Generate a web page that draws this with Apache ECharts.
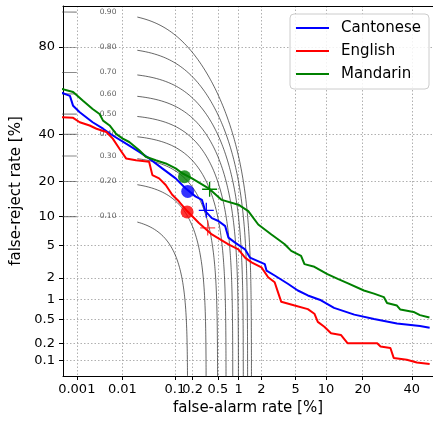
<!DOCTYPE html>
<html><head><meta charset="utf-8">
<script src="https://cdn.jsdelivr.net/npm/echarts@6/dist/echarts.min.js"></script>
<style>html,body{margin:0;padding:0;background:#fff}#c{width:433px;height:421px}</style>
</head><body><div id="c"></div>
<script>
// ---- tick labels (percent) ----
const xTickValues = [0.001, 0.01, 0.1, 0.2, 0.5, 1, 2, 5, 10, 20, 40];
const xTickLabels = ['0.001', '0.01', '0.1', '0.2', '0.5', '1', '2', '5', '10', '20', '40'];
const yTickValues = [0.1, 0.2, 0.5, 1, 2, 5, 10, 20, 40, 80];
const yTickLabels = ['0.1', '0.2', '0.5', '1', '2', '5', '10', '20', '40', '80'];

// ---- DET curves (false-alarm %, false-reject %) ----
const cantoneseFA = [0.0004, 0.00069, 0.00082, 0.00117, 0.0023, 0.0039, 0.0063, 0.0119, 0.0218, 0.0338, 0.0594, 0.103, 0.152, 0.222, 0.283, 0.32, 0.405, 0.51, 0.643, 0.716, 0.89, 1.22, 1.42, 2.2, 2.31, 2.9, 4.11, 5.28, 6.7, 9.0, 11.8, 17.3, 24.0, 33.3, 43.8, 48.4];
const cantoneseFR = [60.8, 59.0, 54.1, 50.9, 45.9, 42.7, 39.4, 35.5, 31.8, 28.9, 24.8, 21.0, 17.6, 15.1, 14.1, 11.2, 9.6, 9.0, 8.0, 6.07, 5.35, 4.5, 3.6, 3.0, 2.49, 2.15, 1.67, 1.35, 1.15, 0.98, 0.756, 0.597, 0.509, 0.434, 0.395, 0.37];

const englishFA = [0.0004, 0.00082, 0.00117, 0.00197, 0.0028, 0.0046, 0.0063, 0.0087, 0.0119, 0.0188, 0.0338, 0.039, 0.052, 0.0687, 0.0897, 0.117, 0.162, 0.251, 0.405, 0.716, 0.99, 1.22, 1.49, 2.0, 2.42, 2.9, 3.17, 3.46, 4.88, 6.7, 7.78, 8.39, 9.66, 11.1, 13.5, 15.3, 25.2, 26.5, 30.5, 31.9, 37.7, 42.3, 48.4];
const englishFR = [48.4, 48.1, 45.9, 44.3, 42.7, 41.1, 37.9, 33.2, 28.9, 28.1, 27.5, 22.2, 21.0, 18.7, 15.6, 13.7, 11.2, 8.66, 6.56, 5.13, 4.5, 3.6, 3.15, 2.73, 2.04, 1.75, 1.28, 0.93, 0.82, 0.724, 0.617, 0.459, 0.385, 0.300, 0.282, 0.204, 0.204, 0.179, 0.168, 0.112, 0.104, 0.0926, 0.0867];

const mandarinFA = [0.0004, 0.00082, 0.00139, 0.0023, 0.00327, 0.0039, 0.0054, 0.0074, 0.0102, 0.0138, 0.0218, 0.0292, 0.045, 0.0687, 0.103, 0.134, 0.195, 0.361, 0.571, 0.99, 1.35, 1.82, 2.65, 3.17, 3.79, 4.48, 5.71, 6.19, 7.78, 10.3, 12.7, 15.3, 20.4, 24.0, 27.8, 29.1, 33.3, 34.8, 40.8, 43.8, 48.3];
const mandarinFR = [62.6, 60.9, 56.6, 52.5, 50.0, 46.7, 44.3, 40.2, 37.9, 36.3, 32.5, 29.6, 28.1, 26.8, 24.8, 22.9, 21.0, 17.6, 14.1, 12.8, 11.2, 8.31, 6.56, 5.82, 5.13, 4.32, 3.78, 3.0, 2.78, 2.24, 1.94, 1.70, 1.35, 1.22, 1.09, 0.895, 0.82, 0.714, 0.657, 0.586, 0.539];

// ---- operating points: [Cantonese, English, Mandarin] ----
const languages = ['Cantonese', 'English', 'Mandarin'];
const langColors = ['#0000ff', '#ff0000', '#008000'];
const minCostFA = [0.166, 0.162, 0.146];
const minCostFR = [16.6, 11.0, 21.6];
const actualFA = [0.332, 0.349, 0.374];
const actualFR = [11.37, 7.68, 17.3];

// ---- iso-cost contours ----
const costLevels = [0.10, 0.20, 0.30, 0.40, 0.50, 0.60, 0.70, 0.80, 0.90];
const costLabels = ['0.10', '0.20', '0.30', '0.40', '0.50', '0.60', '0.70', '0.80', '0.90'];
const costSlope = 60.5;          // false-alarm weight
const contourGapStartFA = 0.001; // % (label gap)
const contourGapEndFA = 0.02;    // %
const contourLabelFA = 0.005;    // %

// ---- probit (inverse normal CDF, Acklam) ----
function probit(p) {
  const a=[-3.969683028665376e+01,2.209460984245205e+02,-2.759285104469687e+02,1.383577518672690e+02,-3.066479806614716e+01,2.506628277459239e+00];
  const b=[-5.447609879822406e+01,1.615858368580409e+02,-1.556989798598866e+02,6.680131188771972e+01,-1.328068155288572e+01];
  const c=[-7.784894002430293e-03,-3.223964580411365e-01,-2.400758277161838e+00,-2.549671010931093e+00,4.374664141464968e+00,2.938163982698783e+00];
  const d=[7.784695709041462e-03,3.224671290700398e-01,2.445134137142996e+00,3.754408661907416e+00];
  const pl=0.02425, ph=1-pl; let q,r;
  if (p<pl){q=Math.sqrt(-2*Math.log(p));return (((((c[0]*q+c[1])*q+c[2])*q+c[3])*q+c[4])*q+c[5])/((((d[0]*q+d[1])*q+d[2])*q+d[3])*q+1);}
  if (p<=ph){q=p-0.5;r=q*q;return (((((a[0]*r+a[1])*r+a[2])*r+a[3])*r+a[4])*r+a[5])*q/(((((b[0]*r+b[1])*r+b[2])*r+b[3])*r+b[4])*r+1);}
  q=Math.sqrt(-2*Math.log(1-p));return -(((((c[0]*q+c[1])*q+c[2])*q+c[3])*q+c[4])*q+c[5])/((((d[0]*q+d[1])*q+d[2])*q+d[3])*q+1);
}
const pz = v => probit(v / 100);

const xTickZ = xTickValues.map(pz);
const yTickZ = yTickValues.map(pz);
function lookup(zs, labels, v) {
  for (let i = 0; i < zs.length; i++) if (Math.abs(zs[i] - v) < 1e-6) return labels[i];
  return '';
}

function contourLeft(c) {
  return [1e-8, contourGapStartFA / 100].map(f => [probit(f), probit(c - costSlope * f)]);
}
function contourMain(c) {
  const fStart = contourGapEndFA / 100, fEnd = c / costSlope;
  const set = [];
  for (let i = 0; i <= 200; i++) set.push(fStart * Math.pow(fEnd / fStart, i / 200));
  const m0 = c - costSlope * fStart;
  for (let i = 0; i <= 200; i++) { const m = m0 * Math.pow(1e-6 / m0, i / 200); set.push((c - m) / costSlope); }
  set.sort((x, y) => x - y);
  return set.filter(f => c - costSlope * f > 1e-7 && f >= fStart).map(f => [probit(f), probit(c - costSlope * f)]);
}

const FONT = 'DejaVu Sans';
const series = [];
costLevels.forEach((c, i) => {
  const ls = { color: 'rgba(30,30,30,0.85)', width: 0.8 };
  series.push({ type: 'line', data: contourLeft(c), symbol: 'none', lineStyle: { color: 'rgba(60,60,60,0.6)', width: 1.2 }, z: 1, silent: true });
  series.push({ type: 'line', data: contourMain(c), symbol: 'none', lineStyle: ls, z: 1, silent: true });
});
series.push({
  type: 'scatter', symbolSize: 1, itemStyle: { color: 'rgba(0,0,0,0)' }, z: 2, silent: true,
  data: costLevels.map((c, i) => ({ value: [pz(contourLabelFA), probit(c)], name: costLabels[i] })),
  label: { show: true, position: 'inside', formatter: p => p.name, fontFamily: FONT, fontSize: 7.5, color: '#333' }
});
const curveFA = [cantoneseFA, englishFA, mandarinFA];
const curveFR = [cantoneseFR, englishFR, mandarinFR];
languages.forEach((name, i) => {
  series.push({
    name, type: 'line', symbol: 'none', z: 3,
    lineStyle: { color: langColors[i], width: 2 }, itemStyle: { color: langColors[i] },
    data: curveFA[i].map((f, k) => [pz(f), pz(curveFR[i][k])])
  });
});
languages.forEach((name, i) => {
  series.push({
    type: 'scatter', symbol: 'circle', symbolSize: 13, z: 5, silent: true,
    itemStyle: { color: langColors[i] },
    data: [[pz(minCostFA[i]), pz(minCostFR[i])]]
  });
  series.push({
    type: 'scatter', symbol: 'path://M7,0L7,14M0,7L14,7', symbolSize: 15, z: 5, silent: true,
    itemStyle: { color: 'rgba(0,0,0,0)', borderColor: langColors[i], borderWidth: 1.3, opacity: i === 1 ? 0.7 : 1 },
    data: [[pz(actualFA[i]), pz(actualFR[i])]]
  });
});

const chart = echarts.init(document.getElementById('c'), null, { renderer: 'canvas' });
chart.setOption({
  animation: false,
  backgroundColor: '#fff',
  grid: { left: 63, top: 6, width: 373, height: 373.5, containLabel: false },
  legend: {
    data: languages.map(n => ({ name: n, icon: 'rect' })), orient: 'vertical', left: 290, top: 14,
    itemWidth: 33, itemHeight: 2, itemGap: 7,
    padding: [6, 8, 7, 6],
    backgroundColor: 'rgba(255,255,255,0.85)', borderColor: '#ccc', borderWidth: 1, borderRadius: 4,
    textStyle: { fontFamily: FONT, fontSize: 15, lineHeight: 16, color: '#000', padding: [0, 0, 0, 7] }
  },
  xAxis: [{
    type: 'value', min: -4.43, max: 0,
    name: 'false-alarm rate [%]', nameLocation: 'middle', nameGap: 25,
    nameTextStyle: { fontFamily: FONT, fontSize: 15, color: '#000' },
    axisLine: { show: true, onZero: false, lineStyle: { color: '#000', width: 1 } },
    axisTick: { customValues: xTickZ, length: 4, lineStyle: { color: '#000' } },
    axisLabel: { customValues: xTickZ, formatter: v => lookup(xTickZ, xTickLabels, v), fontFamily: FONT, fontSize: 13, color: '#000', margin: 7 },
    splitLine: { show: true, lineStyle: { color: '#b0b0b0', width: 1, type: [1.5, 2] } }
  }, {
    type: 'value', position: 'top', min: -4.43, max: 0,
    axisLine: { show: true, onZero: false, lineStyle: { color: '#000', width: 1 } },
    axisTick: { show: false }, axisLabel: { show: false }, splitLine: { show: false }
  }],
  yAxis: [{
    type: 'value', min: -3.283, max: 1.354,
    name: 'false-reject rate [%]', nameLocation: 'middle', nameGap: 34,
    nameTextStyle: { fontFamily: FONT, fontSize: 15, color: '#000' },
    axisLine: { show: true, onZero: false, lineStyle: { color: '#000', width: 1 } },
    axisTick: { show: true, customValues: yTickZ, length: 4, lineStyle: { color: '#000' } },
    axisLabel: { customValues: yTickZ, formatter: v => lookup(yTickZ, yTickLabels, v), fontFamily: FONT, fontSize: 13, color: '#000', margin: 8 },
    splitLine: { show: true, lineStyle: { color: '#b0b0b0', width: 1, type: [1.5, 2] } }
  }],
  series
});
</script></body></html>
